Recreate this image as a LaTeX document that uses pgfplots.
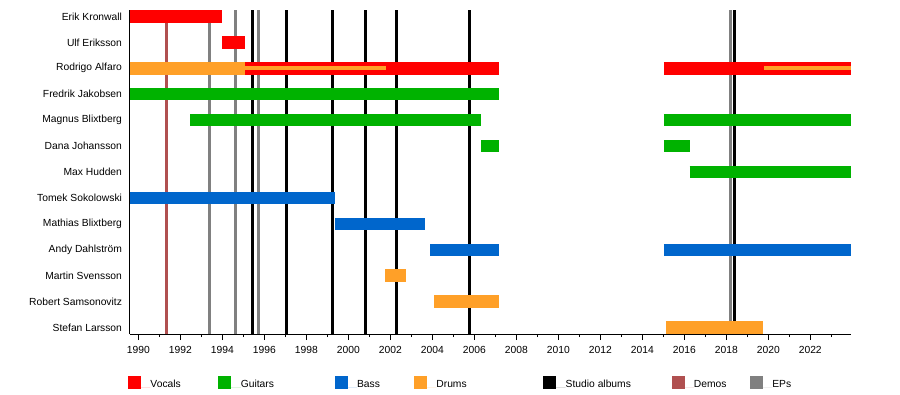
\documentclass[border=0pt]{standalone}
\usepackage{fontspec}
\setmainfont{Liberation Sans}
\usepackage{pgfplots}
\pgfplotsset{compat=1.18}
\definecolor{vocals}{RGB}{255,0,0}
\definecolor{guitars}{RGB}{0,178,0}
\definecolor{bass}{RGB}{0,102,204}
\definecolor{drums}{RGB}{255,160,40}
\definecolor{studio}{RGB}{0,0,0}
\definecolor{demos}{RGB}{176,80,80}
\definecolor{eps}{RGB}{128,128,128}
\begin{document}
\fontsize{10.3}{12.4}\selectfont%
\begin{tikzpicture}
\useasboundingbox (0,0) rectangle (900pt,-394pt);
\begin{axis}[
  at={(130pt,-10pt)}, anchor=north west,
  scale only axis, width=721pt, height=324pt,
  xmin=1989.6, xmax=2023.94, ymin=-0.25, ymax=12.25,
  axis x line*=bottom, axis y line*=left,
  axis line style={-, black, line width=1pt},
  xtick={1990,1992,...,2022},
  minor xtick={1991,1993,...,2023},
  tick align=outside,
  major tick length=6pt, minor tick length=3pt,
  tick style={black, line width=1pt},
  ytick={0,...,12},
  yticklabels={Stefan Larsson,Robert Samsonovitz,Martin Svensson,Andy Dahlström,Mathias Blixtberg,Tomek Sokolowski,Max Hudden,Dana Johansson,Magnus Blixtberg,Fredrik Jakobsen,Rodrigo Alfaro,Ulf Eriksson,Erik Kronwall},
  y tick style={draw=none},
  scaled x ticks=false,
  xticklabel style={/pgf/number format/1000 sep={}, /pgf/number format/assume math mode=true, yshift=-3pt},
  yticklabel style={xshift=1.6pt},
  legend columns=7,
  legend image code/.code={\fill[#1] (0pt,-1.8pt) rectangle (13pt,11pt); \path (0pt,0pt) -- (22.3pt,0pt);},
  legend style={draw=none, fill=none, at={(rel axis cs:0,0)}, anchor=north west, xshift=-2pt, yshift=-42pt, inner sep=0pt, nodes={inner sep=0pt}, cells={anchor=base west}, column sep=0pt},
  bar/.style={line width=12.5pt, forget plot},
  thin/.style={line width=4pt, forget plot},
  vl/.style={line width=3pt, forget plot},
]
\addlegendimage{fill=vocals, draw=none}
\addlegendentry{\makebox[68pt][l]{Vocals}}
\addlegendimage{fill=guitars, draw=none}
\addlegendentry{\makebox[94pt][l]{Guitars}}
\addlegendimage{fill=bass, draw=none}
\addlegendentry{\makebox[57pt][l]{Bass}}
\addlegendimage{fill=drums, draw=none}
\addlegendentry{\makebox[107pt][l]{Drums}}
\addlegendimage{fill=studio, draw=none}
\addlegendentry{\makebox[106pt][l]{Studio albums}}
\addlegendimage{fill=demos, draw=none}
\addlegendentry{\makebox[56pt][l]{Demos}}
\addlegendimage{fill=eps, draw=none}
\addlegendentry{\makebox[30pt][l]{EPs}}
% vertical release lines
\addplot[vl, demos] coordinates {(1991.35,-0.25) (1991.35,12.25)};
\addplot[vl, eps] coordinates {(1993.41,-0.25) (1993.41,12.25)};
\addplot[vl, eps] coordinates {(1994.62,-0.25) (1994.62,12.25)};
\addplot[vl, eps] coordinates {(1995.70,-0.25) (1995.70,12.25)};
\addplot[vl, eps] coordinates {(2018.18,-0.25) (2018.18,12.25)};
\addplot[vl, studio] coordinates {(1995.43,-0.25) (1995.43,12.25)};
\addplot[vl, studio] coordinates {(1997.05,-0.25) (1997.05,12.25)};
\addplot[vl, studio] coordinates {(1999.24,-0.25) (1999.24,12.25)};
\addplot[vl, studio] coordinates {(2000.83,-0.25) (2000.83,12.25)};
\addplot[vl, studio] coordinates {(2002.29,-0.25) (2002.29,12.25)};
\addplot[vl, studio] coordinates {(2005.78,-0.25) (2005.78,12.25)};
\addplot[vl, studio] coordinates {(2018.37,-0.25) (2018.37,12.25)};
% Erik Kronwall
\addplot[bar, vocals] coordinates {(1989.6,12) (1994.0,12)};
% Ulf Eriksson
\addplot[bar, vocals] coordinates {(1994.0,11) (1995.08,11)};
% Rodrigo Alfaro
\addplot[bar, drums] coordinates {(1989.6,10) (1995.08,10)};
\addplot[bar, vocals] coordinates {(1995.08,10) (2007.18,10)};
\addplot[thin, drums] coordinates {(1995.08,10) (2001.78,10)};
\addplot[bar, vocals] coordinates {(2015.03,10) (2023.94,10)};
\addplot[thin, drums] coordinates {(2019.8,10) (2023.94,10)};
% Fredrik Jakobsen
\addplot[bar, guitars] coordinates {(1989.6,9) (2007.18,9)};
% Magnus Blixtberg
\addplot[bar, guitars] coordinates {(1992.46,8) (2006.32,8)};
\addplot[bar, guitars] coordinates {(2015.03,8) (2023.94,8)};
% Dana Johansson
\addplot[bar, guitars] coordinates {(2006.32,7) (2007.18,7)};
\addplot[bar, guitars] coordinates {(2015.03,7) (2016.25,7)};
% Max Hudden
\addplot[bar, guitars] coordinates {(2016.25,6) (2023.94,6)};
% Tomek Sokolowski
\addplot[bar, bass] coordinates {(1989.6,5) (1999.38,5)};
% Mathias Blixtberg
\addplot[bar, bass] coordinates {(1999.38,4) (2003.65,4)};
% Andy Dahlstrom
\addplot[bar, bass] coordinates {(2003.89,3) (2007.18,3)};
\addplot[bar, bass] coordinates {(2015.03,3) (2023.94,3)};
% Martin Svensson
\addplot[bar, drums] coordinates {(2001.75,2) (2002.75,2)};
% Robert Samsonovitz
\addplot[bar, drums] coordinates {(2004.08,1) (2007.18,1)};
% Stefan Larsson
\addplot[bar, drums] coordinates {(2015.12,0) (2019.75,0)};
\end{axis}
\end{tikzpicture}
\end{document}
